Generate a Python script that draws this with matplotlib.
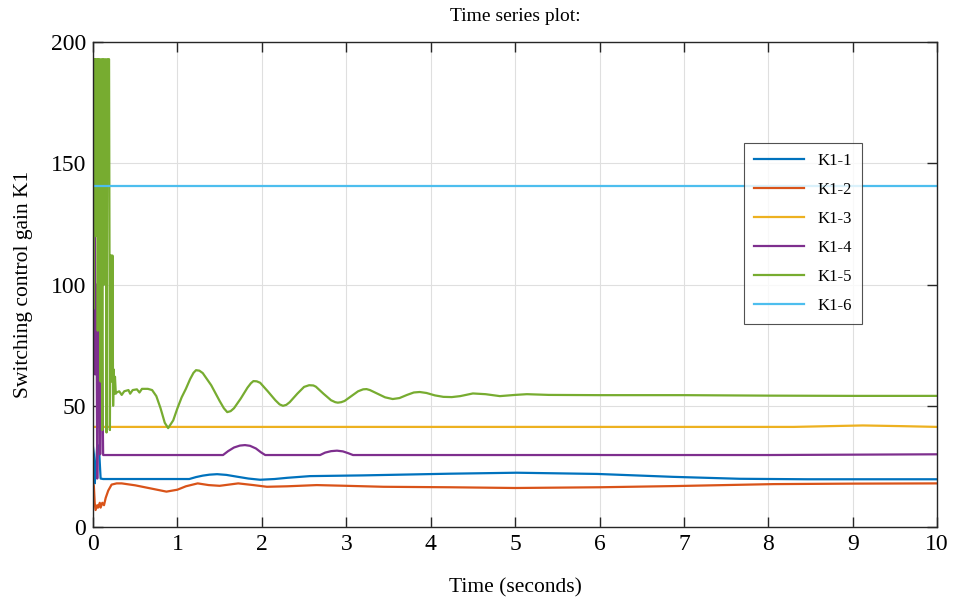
import numpy as np
import matplotlib
matplotlib.use("Agg")
import matplotlib.pyplot as plt

plt.rcParams['font.family'] = ['Liberation Serif', 'DejaVu Serif']
plt.rcParams['mathtext.fontset'] = 'stix'

# Gain histories (time in seconds, gain value)
t1 = [0.0, 0.01, 0.02, 0.03, 0.05, 0.07, 0.09, 0.12, 1.14, 1.22, 1.3, 1.38, 1.47, 1.58, 1.7,
      1.84, 1.98, 2.15, 2.3, 2.57, 3.2, 4.23, 5.02, 5.97, 6.87, 7.66, 8.46, 10.0]
k1_1 = [33, 30, 18, 22, 34, 33, 20, 19.8, 19.8, 20.6, 21.2, 21.6, 21.8, 21.5, 20.8,
        20.0, 19.5, 19.8, 20.3, 21.0, 21.3, 22.0, 22.4, 21.9, 20.7, 19.9, 19.7, 19.7]

t2 = [0.0, 0.01, 0.02, 0.03, 0.05, 0.06, 0.08, 0.09, 0.11, 0.13, 0.15, 0.18, 0.22, 0.28, 0.34,
      0.5, 0.7, 0.87, 1.0, 1.1, 1.24, 1.37, 1.5, 1.72, 1.9, 2.06, 2.3, 2.65, 3.0, 3.44, 4.23,
      5.0, 6.0, 6.9, 8.06, 9.0, 10.0]
k1_2 = [18, 17, 10, 7, 9, 8, 10, 8, 10, 9, 12, 15, 17.5, 18, 18,
        17.2, 15.8, 14.6, 15.4, 16.8, 18, 17.3, 17, 18, 17.3, 16.6, 16.8, 17.3, 17, 16.6, 16.4,
        16.1, 16.4, 16.9, 17.7, 17.9, 18]

t3 = [0.0, 8.3, 8.7, 9.12, 9.6, 10.0]
k1_3 = [41.3, 41.3, 41.6, 41.9, 41.6, 41.3]

t4 = [0.0, 0.005, 0.012, 0.02, 0.03, 0.04, 0.05, 0.06, 0.075, 0.085, 0.095, 0.11, 0.12,
      1.54, 1.6, 1.67, 1.74, 1.8, 1.86, 1.93, 1.99, 2.04, 2.69, 2.75, 2.82, 2.89, 2.96, 3.02,
      3.08, 8.0, 10.0]
k1_4 = [144, 100, 63, 144, 63, 100, 20, 63, 112, 30, 112, 60, 29.7,
        29.7, 31.3, 32.8, 33.6, 33.8, 33.5, 32.4, 30.8, 29.7, 29.7, 30.7, 31.3, 31.5, 31.2, 30.5,
        29.7, 29.7, 30.0]

t5 = [0.0, 0.008, 0.016, 0.024, 0.03, 0.036, 0.05, 0.056, 0.064, 0.08, 0.09, 0.1, 0.11, 0.118,
      0.13, 0.14, 0.15, 0.16, 0.17, 0.19, 0.2, 0.208, 0.216, 0.222, 0.23, 0.238, 0.245, 0.252,
      0.26, 0.27, 0.28, 0.31, 0.34, 0.37, 0.42, 0.44, 0.47, 0.52, 0.55, 0.58, 0.65, 0.7, 0.75,
      0.8, 0.85, 0.89, 0.95, 1.0, 1.05, 1.1, 1.15, 1.19, 1.22, 1.26, 1.3, 1.4, 1.5, 1.55, 1.59,
      1.63, 1.67, 1.75, 1.83, 1.87, 1.9, 1.94, 1.98, 2.07, 2.16, 2.21, 2.25, 2.29, 2.33, 2.42,
      2.5, 2.56, 2.61, 2.64, 2.73, 2.82, 2.87, 2.9, 2.94, 2.98, 3.06, 3.14, 3.2, 3.24, 3.28,
      3.37, 3.46, 3.55, 3.63, 3.72, 3.8, 3.87, 3.95, 4.05, 4.15, 4.25, 4.35, 4.5, 4.65, 4.82,
      5.0, 5.14, 5.4, 6.0, 7.0, 8.0, 9.0, 10.0]
k1_5 = [193, 90, 193, 193, 120, 193, 193, 81, 193, 193, 60, 193, 40, 193,
        193, 100, 193, 39, 193, 193, 40, 112, 112, 60, 112, 50, 65, 55,
        62, 55, 55.5, 56, 54.5, 56, 56.5, 55, 56.5, 56.8, 55.5, 57, 57, 56.5, 54,
        49, 43, 40.8, 44, 49, 53.5, 57, 61, 63.6, 64.7, 64.5, 63.5, 58.5, 52, 49, 47.4,
        47.8, 49, 53, 57.5, 59.3, 60.2, 60.1, 59.5, 56, 52.3, 50.6, 50, 50.4, 51.5, 55,
        57.8, 58.5, 58.4, 57.9, 55, 52.3, 51.5, 51.3, 51.5, 52, 54, 56, 56.8, 56.9, 56.5,
        55, 53.5, 52.8, 53.2, 54.5, 55.5, 55.7, 55.3, 54.3, 53.7, 53.6, 54, 55.1, 54.8, 54,
        54.5, 54.8, 54.5, 54.4, 54.4, 54.2, 54.1, 54.1]

t6 = [0.0, 10.0]
k1_6 = [140.5, 140.5]

series = [(t1, k1_1, 'K1-1', '#0072BD'),
          (t2, k1_2, 'K1-2', '#D95319'),
          (t3, k1_3, 'K1-3', '#EDB120'),
          (t4, k1_4, 'K1-4', '#7E2F8E'),
          (t5, k1_5, 'K1-5', '#77AC30'),
          (t6, k1_6, 'K1-6', '#4DBEEE')]

fig = plt.figure(figsize=(9.56, 6.03), dpi=100)
ax = fig.add_axes([0.0973, 0.126, 0.883, 0.804])

for t, k, name, col in series:
    ax.plot(t, k, color=col, linewidth=1.6, label=name)

ax.set_xlim(0, 10)
ax.set_ylim(0, 200)
ax.set_xticks(np.arange(0, 11, 1))
ax.set_yticks([0, 50, 100, 150, 200])
ax.grid(True, color='#dfdfdf', linewidth=0.8)
ax.set_axisbelow(True)

for side in ax.spines.values():
    side.set_color('#262626')
    side.set_linewidth(1.0)
ax.tick_params(direction='in', length=7, width=1.0, top=True, right=True,
               labelsize=17, colors='#262626', labelcolor='black', pad=5)

ax.set_xlabel('Time (seconds)', fontsize=15.5, labelpad=17)
ax.set_ylabel('Switching control gain K1', fontsize=15.5, labelpad=13)
ax.set_title('Time series plot:', fontsize=14, pad=15)

leg = ax.legend(loc='upper right', bbox_to_anchor=(0.911, 0.792), borderaxespad=0,
                fontsize=12, frameon=True, fancybox=False, shadow=False,
                handlelength=3.0, labelspacing=0.78, borderpad=0.6, handletextpad=0.8)
leg.get_frame().set_edgecolor('#262626')
leg.get_frame().set_linewidth(0.8)

fig.savefig('out.png', dpi=100)
